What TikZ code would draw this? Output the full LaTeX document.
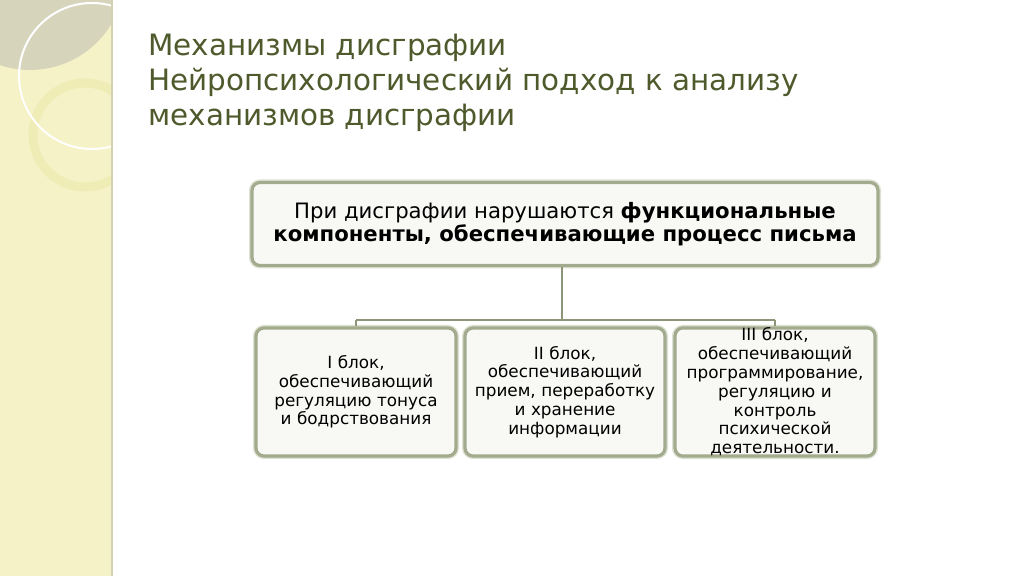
\documentclass[tikz,border=0pt]{standalone}
\usepackage{fontspec}
\setmainfont{DejaVu Sans}
\usetikzlibrary{positioning, calc}

\definecolor{titlegreen}{HTML}{4E5A2C}
\definecolor{panelfill}{HTML}{F6F2C8}
\definecolor{panelline}{HTML}{D2D2B0}
\definecolor{discgray}{HTML}{D7D4BC}
\definecolor{ringyellow}{HTML}{EFECB6}
\definecolor{boxline}{HTML}{A3AB8E}
\definecolor{boxglow}{HTML}{DDE1D2}
\definecolor{boxfill}{HTML}{F8F8F5}
\definecolor{wireline}{HTML}{8C9479}

\begin{document}
\begin{tikzpicture}[
  x=0.5pt, y=-0.5pt,
  box/.style   ={rounded corners=4pt, draw=boxline, line width=1.6pt, fill=boxfill, align=center,
                 inner sep=0pt, preaction={draw=boxglow, line width=3pt}},
  mainbox/.style={box, minimum width=313pt, minimum height=41.5pt,
                 font=\fontsize{10.6}{11.6}\selectfont},
  blockbox/.style={box, minimum width=100pt, minimum height=64pt, text width=96pt,
                 font=\fontsize{8.4}{9.4}\selectfont},
  wire/.style  ={draw=wireline, line width=1pt},
  heading/.style={anchor=north west, align=left, text=titlegreen, inner sep=0pt,
                 font=\fontsize{14.7}{17.5}\selectfont},
]
\useasboundingbox (0,0) rectangle (1024,576);

% ---------- background: left panel with disc and rings ----------
\fill[white] (0,0) rectangle (1024,576);
\begin{scope}
  \clip (0,0) rectangle (112,576);
  \fill[panelfill] (0,0) rectangle (112,576);
  \fill[discgray] (30,-25) circle (95);
  \draw[ringyellow, line width=4.5pt] (85,135) circle (52);
  \draw[white, line width=1pt] (92,76) circle (73);
\end{scope}
\draw[panelline, line width=1pt] (112,0) -- (112,576);

% ---------- title ----------
\node[heading] (title) at (148,34)
  {Механизмы дисграфии\\Нейропсихологический подход к анализу\\механизмов дисграфии};

% ---------- top box ----------
\node[mainbox] (top) at (565,224)
  {При дисграфии нарушаются \textbf{функциональные}\\\textbf{компоненты, обеспечивающие процесс письма}};

% ---------- three blocks ----------
\node[blockbox] (b1) at (356,392) {I блок,\\обеспечивающий\\регуляцию тонуса\\и бодрствования};
\node[blockbox] (b2) at (565,392) {II блок,\\обеспечивающий\\прием, переработку\\и хранение\\информации};
\node[blockbox] (b3) at (775,392) {III блок,\\обеспечивающий\\программирование,\\регуляцию и\\контроль\\психической\\деятельности.};

% ---------- tree connector ----------
\coordinate (bus) at (562,320);
\draw[wire] (top.south -| bus) -- (bus);
\draw[wire] (bus -| b1) -- (bus -| b3);
\foreach \b in {b1,b3}
  \draw[wire] (bus -| \b) -- (\b.north);

\end{tikzpicture}
\end{document}
